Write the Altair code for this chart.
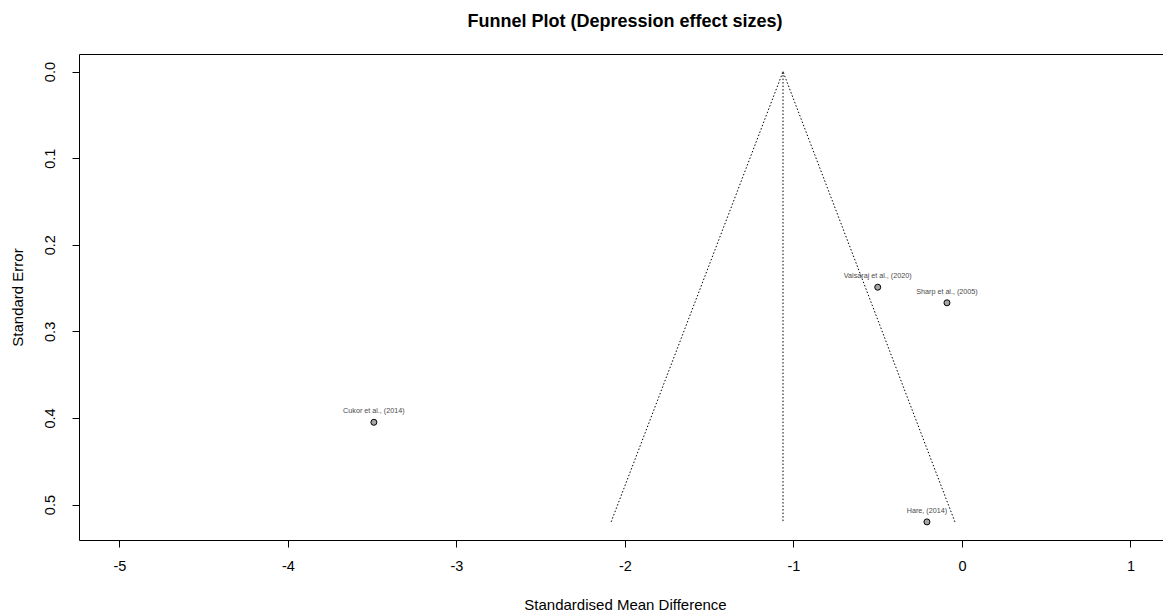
import altair as alt
import pandas as pd

# Study effect sizes (SMD) and standard errors
studies = ["Valsaraj et al., (2020)", "Sharp et al., (2005)", "Cukor et al., (2014)", "Hare, (2014)"]
smd = [-0.50, -0.089, -3.49, -0.208]
se = [0.249, 0.267, 0.405, 0.520]

# Funnel (pooled estimate and 95% pseudo-confidence limits)
funnel_x = [-2.082, -1.062, -0.042]
funnel_se = [0.52, 0.0, 0.52]
center_x = [-1.062, -1.062]
center_se = [0.0, 0.52]

x_ticks = [-5, -4, -3, -2, -1, 0, 1]
y_ticks = [0.0, 0.1, 0.2, 0.3, 0.4, 0.5]

pts = pd.DataFrame({"study": studies, "smd": smd, "se": se})
funnel = pd.DataFrame({"smd": funnel_x, "se": funnel_se, "o": [0, 1, 2]})
center = pd.DataFrame({"smd": center_x, "se": center_se, "o": [0, 1]})

FONT = "Liberation Sans"
W, H = 1084, 486
MINUS = "\u2212"

xs = alt.Scale(domain=[-5.24, 1.193], nice=False, zero=False)
ys = alt.Scale(domain=[-0.0203, 0.5409], nice=False, zero=False, reverse=True)

xaxis = alt.Axis(values=x_ticks, format="d", labelExpr=f"replace(datum.label, '{MINUS}', '-')",
                 grid=False, domain=False, tickSize=7,
                 tickColor="black", labelFontSize=14.5, labelFont=FONT, labelColor="black",
                 labelPadding=12, title="Standardised Mean Difference", titleFont=FONT,
                 titleFontSize=15, titleFontWeight="normal", titleColor="black",
                 titleX=546, titleY=69, titleBaseline="alphabetic",
                 titleAnchor="middle", titleAlign="center")
yaxis = alt.Axis(values=y_ticks, format=".1f", grid=False, domain=False, tickSize=7,
                 tickColor="black", labelFontSize=14.5, labelFont=FONT, labelColor="black",
                 labelAngle=270, labelAlign="center", labelBaseline="alphabetic",
                 labelPadding=18, title="Standard Error", titleFont=FONT, titleFontSize=15,
                 titleFontWeight="normal", titleColor="black", titleAngle=270,
                 titleX=-57, titleY=243, titleBaseline="alphabetic", titleAlign="center")

base_x = alt.X("smd:Q", scale=xs, axis=xaxis)
base_y = alt.Y("se:Q", scale=ys, axis=yaxis)

funnel_line = alt.Chart(funnel).mark_line(color="black", strokeWidth=1, strokeDash=[1.5, 2]).encode(
    x=base_x, y=base_y, order="o:Q")
center_line = alt.Chart(center).mark_line(color="black", strokeWidth=1, strokeDash=[1.5, 2]).encode(
    x=alt.X("smd:Q", scale=xs), y=alt.Y("se:Q", scale=ys), order="o:Q")
points = alt.Chart(pts).mark_point(filled=True, fill="#a6a6a6", stroke="black", strokeWidth=1,
                                   size=36, opacity=1, shape="circle").encode(
    x=alt.X("smd:Q", scale=xs), y=alt.Y("se:Q", scale=ys))
labels = alt.Chart(pts).mark_text(font=FONT, fontSize=7.2, color="#4a4a4a", dy=-11,
                                  align="center", baseline="middle").encode(
    x=alt.X("smd:Q", scale=xs), y=alt.Y("se:Q", scale=ys), text="study:N")

chart = alt.layer(funnel_line, center_line, points, labels).properties(
    width=W, height=H,
    title=alt.TitleParams("Funnel Plot (Depression effect sizes)", font=FONT, fontSize=18,
                          fontWeight="bold", color="black", anchor="middle", offset=29,
                          baseline="bottom", dy=24, dx=4),
    autosize=alt.AutoSizeParams(type="none"),
    padding={"left": 79, "top": 54, "right": 0, "bottom": 74},
).configure(background="white").configure_view(stroke="black", strokeWidth=1)

chart.save("out.html", embed_options={"renderer": "svg", "actions": False})
